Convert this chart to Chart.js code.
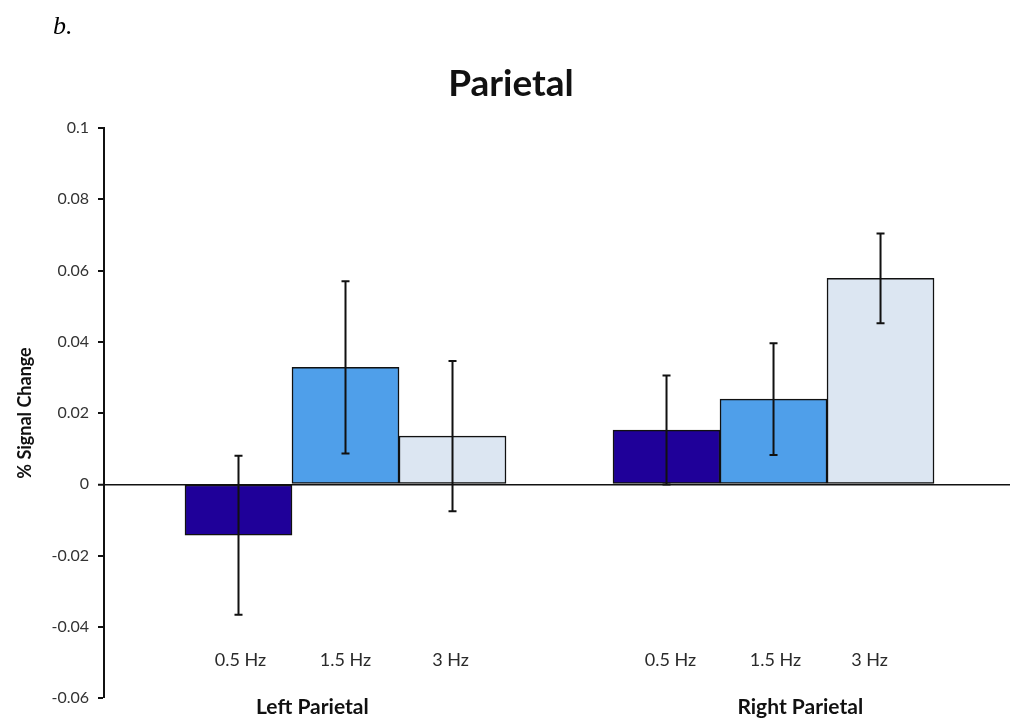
<!DOCTYPE html>
<html>
<head>
<meta charset="utf-8">
<script src="https://cdn.jsdelivr.net/npm/chart.js@4"></script>
<style>
  html, body { margin: 0; padding: 0; background: #ffffff; }
  #wrap { width: 1013px; height: 723px; position: relative; }
</style>
</head>
<body>
<div id="wrap"><canvas id="c" width="1013" height="723"></canvas></div>
<script>
// ---- data ----
const groups = ['Left Parietal', 'Right Parietal'];
const frequencies = ['0.5 Hz', '1.5 Hz', '3 Hz'];
const leftValues = [-0.0143, 0.0328, 0.0135];
const leftErrors = [0.0223, 0.0242, 0.0211];
const rightValues = [0.0152, 0.0239, 0.0578];
const rightErrors = [0.0153, 0.0157, 0.0126];
const yMin = -0.06, yMax = 0.1, yStep = 0.02;
const barColors = ['#1f0099', '#4f9fea', '#dce6f2'];

// slot positions on a linear x scale (left group 1..3, right group 5..7)
const points = [];
const colors = [];
const errors = [];
frequencies.forEach((f, i) => { points.push({ x: 1 + i, y: leftValues[i] }); colors.push(barColors[i]); errors.push(leftErrors[i]); });
frequencies.forEach((f, i) => { points.push({ x: 5 + i, y: rightValues[i] }); colors.push(barColors[i]); errors.push(rightErrors[i]); });

const FONT = 'Lato, "Open Sans", "Liberation Sans", sans-serif';

const decor = {
  id: 'decor',
  afterDatasetsDraw(chart) {
    const ctx = chart.ctx;
    const ys = chart.scales.y;
    const xs = chart.scales.x;
    const meta = chart.getDatasetMeta(0);
    ctx.save();
    // error bars
    ctx.strokeStyle = '#111';
    ctx.lineWidth = 2;
    meta.data.forEach((bar, i) => {
      const v = points[i].y, e = errors[i];
      const top = ys.getPixelForValue(v + e);
      const bot = ys.getPixelForValue(v - e);
      ctx.beginPath();
      ctx.moveTo(bar.x, top); ctx.lineTo(bar.x, bot);
      ctx.moveTo(bar.x - 4, top); ctx.lineTo(bar.x + 4, top);
      ctx.moveTo(bar.x - 4, bot); ctx.lineTo(bar.x + 4, bot);
      ctx.stroke();
    });
    // frequency labels
    const area = chart.chartArea;
    ctx.fillStyle = '#2a2a2a';
    ctx.font = '18px ' + FONT;
    ctx.textAlign = 'center';
    ctx.textBaseline = 'middle';
    const subShift = [2, 0, -2, 4, 2, -11];
    meta.data.forEach((bar, i) => {
      ctx.fillText(frequencies[i % 3], bar.x + subShift[i], area.bottom - 38);
    });
    // group labels
    ctx.font = 'bold 21px ' + FONT;
    ctx.fillStyle = '#111';
    ctx.fillText(groups[0], xs.getPixelForValue(1.69), area.bottom + 9);
    ctx.fillText(groups[1], xs.getPixelForValue(6.25), area.bottom + 9);
    // title
    ctx.font = 'bold 37px ' + FONT;
    ctx.fillText('Parietal', 511, 84);
    // panel label
    ctx.font = 'italic 26px "Liberation Serif", "DejaVu Serif", serif';
    ctx.textAlign = 'left';
    ctx.fillStyle = '#000';
    ctx.fillText('b.', 53, 27);
    ctx.restore();
  }
};

new Chart(document.getElementById('c'), {
  type: 'bar',
  data: {
    datasets: [{
      data: points,
      backgroundColor: colors,
      borderColor: '#111',
      borderWidth: 1.5,
      borderSkipped: false,
      barPercentage: 1,
      categoryPercentage: 1
    }]
  },
  options: {
    responsive: false,
    animation: false,
    layout: { padding: { top: 128, right: 3, bottom: 25, left: 0 } },
    plugins: { legend: { display: false }, tooltip: { enabled: false }, title: { display: false } },
    scales: {
      x: {
        type: 'linear',
        min: -0.257,
        max: 8.21,
        display: false,
        offset: false
      },
      y: {
        min: yMin,
        max: yMax,
        afterFit(scale) { scale.width = 104; },
        border: { display: true, color: '#111', width: 2 },
        grid: {
          drawOnChartArea: true,
          color: (c) => (c.tick && Math.abs(c.tick.value) < 1e-9) ? '#111' : 'rgba(0,0,0,0)',
          lineWidth: (c) => (c.tick && Math.abs(c.tick.value) < 1e-9) ? 1.5 : 0,
          tickColor: '#111',
          tickWidth: 2,
          tickLength: 6
        },
        ticks: {
          stepSize: yStep,
          padding: 9,
          color: '#333',
          font: { family: FONT, size: 16 },
          callback: (v) => parseFloat(Number(v).toFixed(2)).toString()
        },
        title: {
          display: true,
          text: '% Signal Change',
          color: '#111',
          font: { family: FONT, size: 18, weight: 'bold' },
          padding: { top: 14, bottom: 0 }
        }
      }
    }
  },
  plugins: [decor]
});
</script>
</body>
</html>
